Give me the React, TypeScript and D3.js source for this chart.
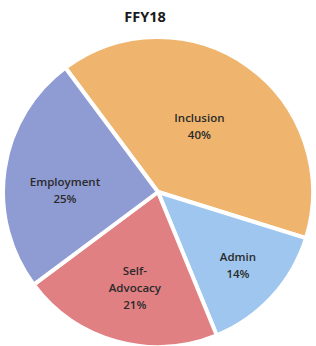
import React from "react";
import * as d3 from "d3";

const categories = ["Inclusion", "Admin", "Self-Advocacy", "Employment"];
const labelLines = [["Inclusion"], ["Admin"], ["Self-", "Advocacy"], ["Employment"]];
const values = [40, 14, 21, 25];
const title = "FFY18";

const colors = ["#EFB56E", "#9EC6EE", "#E08083", "#8F9BD3"];

const W = 316;
const H = 346;
const cx = 158;
const cy = 192;
const R = 155;
const startDeg = -36.7;
const labelFactor: Record<string, number> = {
  Inclusion: 0.5,
  Admin: 0.7,
  "Self-Advocacy": 0.64,
  Employment: 0.6,
};
const labelAngleShift: Record<string, number> = {
  Inclusion: -3,
  Admin: 0,
  "Self-Advocacy": -2,
  Employment: -7.6,
};

export default function App() {
  const data = categories.map((c, i) => ({ name: c, value: values[i], lines: labelLines[i], color: colors[i] }));
  const start = (startDeg * Math.PI) / 180;
  const pie = d3
    .pie<(typeof data)[number]>()
    .sort(null)
    .value((d) => d.value)
    .startAngle(start)
    .endAngle(start + 2 * Math.PI);
  const arcs = pie(data);
  const arc = d3.arc<d3.PieArcDatum<(typeof data)[number]>>().innerRadius(0).outerRadius(R);
  const total = d3.sum(values);
  const fmt = (v: number) => `${Math.round((v / total) * 100)}%`;
  const lh = 17;
  return (
    <svg width={W} height={H} style={{ position: "absolute", left: 0, top: 0 }}>
      <rect width={W} height={H} fill="#fff" />
      <text x={145} y={22} textAnchor="middle" fontFamily="'Open Sans', sans-serif" fontWeight={700} fontSize={14.5} fill="#1a1a1a">
        {title}
      </text>
      <g transform={`translate(${cx},${cy})`}>
        {arcs.map((a) => (
          <path key={a.data.name} d={arc(a) || ""} fill={a.data.color} stroke="#fff" strokeWidth={4} strokeLinejoin="round" />
        ))}
        {arcs.map((a) => {
          const f = labelFactor[a.data.name] ?? 0.62;
          const shift = ((labelAngleShift[a.data.name] ?? 0) * Math.PI) / 180;
          const la = d3.arc<d3.PieArcDatum<(typeof data)[number]>>().innerRadius(R * f).outerRadius(R * f);
          const [x, y] = la.centroid({ ...a, startAngle: a.startAngle + shift, endAngle: a.endAngle + shift });
          const lines = [...a.data.lines, fmt(a.data.value)];
          const y0 = y - ((lines.length - 1) * lh) / 2;
          return (
            <text key={a.data.name} textAnchor="middle" fontFamily="'Open Sans', sans-serif" fontSize={11.5} fontWeight={600} fill="#2a2a2a">
              {lines.map((l, i) => (
                <tspan key={i} x={x} y={y0 + i * lh + 4}>
                  {l}
                </tspan>
              ))}
            </text>
          );
        })}
      </g>
    </svg>
  );
}
